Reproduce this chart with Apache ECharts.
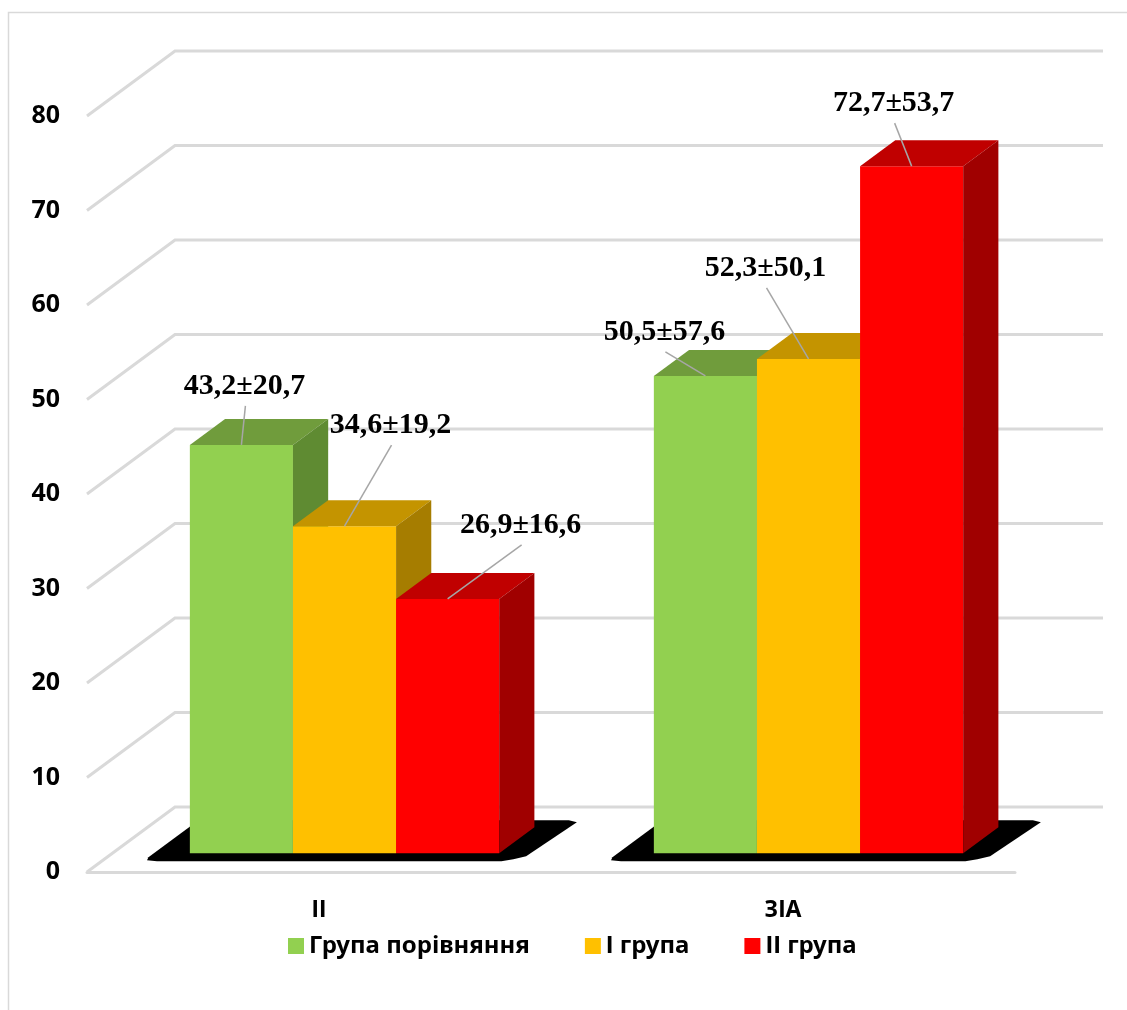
<!DOCTYPE html>
<html>
<head>
<meta charset="utf-8">
<script src="https://cdn.jsdelivr.net/npm/echarts@6/dist/echarts.min.js"></script>
<style>
html, body { margin: 0; padding: 0; background: #fff; }
#chart { width: 1127px; height: 1010px; }
</style>
</head>
<body>
<div id="chart"></div>
<script>
// data
var categories = ["ІІ", "ЗІА"];
var seriesNames = ["Група порівняння", "І група", "ІІ група"];
var meanCompare = [43.2, 50.5];
var meanGroup1 = [34.6, 52.3];
var meanGroup2 = [26.9, 72.7];
var sdCompare = [20.7, 57.6];
var sdGroup1 = [19.2, 50.1];
var sdGroup2 = [16.6, 53.7];
var yTicks = [0, 10, 20, 30, 40, 50, 60, 70, 80];

var means = [meanCompare, meanGroup1, meanGroup2];
var sds = [sdCompare, sdGroup1, sdGroup2];

// look of the fake 3d
var faces = [
  { front: "#92d050", top: "#709c3c", side: "#5f8b32" },
  { front: "#ffc000", top: "#c49400", side: "#a67d00" },
  { front: "#ff0000", top: "#c00000", side: "#a00000" }
];
var DEPTH = [88, -65];   // full floor depth in px
var F0 = 0.29, F1 = 0.69; // where the bars sit inside the depth
var GAP = 1 / 3;
// label offsets from the top-front-centre of each bar, [series][category]
var labelShift = [
  [[3, -59], [-41, -44]],
  [[46, -101], [-43, -91]],
  [[73, -74], [-18, -63]]
];
var sansFont = "Noto Sans";

function fmt(v) {
  return v.toFixed(1).replace(".", ",");
}

function barBox(api, cat, val, k) {
  var base = api.coord([cat, 0]);
  var top = api.coord([cat, val]);
  var band = api.size([1, 0])[0];
  var bw = band * (1 - GAP) / 3;
  return {
    x: base[0] - 1.5 * bw + k * bw + DEPTH[0] * F0,
    w: bw,
    yb: base[1] + DEPTH[1] * F0,
    yt: top[1] + DEPTH[1] * F0,
    dx: DEPTH[0] * (F1 - F0),
    dy: DEPTH[1] * (F1 - F0)
  };
}

function wallItem(params, api) {
  var cs = params.coordSys;
  var y = api.coord([0, api.value(1)])[1];
  return {
    type: "polyline",
    silent: true,
    shape: { points: [[cs.x, y], [cs.x + DEPTH[0], y + DEPTH[1]], [cs.x + cs.width + DEPTH[0], y + DEPTH[1]]] },
    style: { stroke: "#d9d9d9", lineWidth: 3, fill: "none" }
  };
}

function shadowItem(params, api) {
  var a = barBox(api, api.value(0), 0, 0);
  var c = barBox(api, api.value(0), 0, 2);
  var s = -DEPTH[0] / DEPTH[1];
  var F = a.yb, B = a.yb + a.dy;
  var yf = F + 8, yk = B - 7;
  var xl = function (y) { return a.x - 36 + (F - y) * s; };
  var xr = function (y) { return c.x + c.w + 31 + (F - y) * s; };
  return {
    type: "polygon",
    silent: true,
    shape: {
      points: [
        [xl(yf - 4), yf - 4], [xl(yf) + 4, yf - 1], [xl(yf) + 14, yf],
        [xr(yf) - 18, yf], [xr(yf) - 6, yf - 2], [xr(yf - 5), yf - 5],
        [xr(yk) + 2, yk + 2], [xr(yk) - 6, yk],
        [xl(yk), yk]
      ]
    },
    style: { fill: "#000" }
  };
}

function barRenderer(k) {
  return function (params, api) {
    var b = barBox(api, api.value(0), api.value(1), k);
    var f = faces[k];
    return {
      type: "group",
      children: [
        {
          type: "rect",
          shape: { x: b.x, y: b.yt, width: b.w, height: b.yb - b.yt },
          style: { fill: f.front }
        },
        {
          type: "polygon",
          shape: { points: [[b.x, b.yt], [b.x + b.w, b.yt], [b.x + b.w + b.dx, b.yt + b.dy], [b.x + b.dx, b.yt + b.dy]] },
          style: { fill: f.top }
        },
        {
          type: "polygon",
          shape: { points: [[b.x + b.w, b.yt], [b.x + b.w + b.dx, b.yt + b.dy], [b.x + b.w + b.dx, b.yb + b.dy], [b.x + b.w, b.yb]] },
          style: { fill: f.side }
        }
      ]
    };
  };
}

function labelItem(params, api) {
  var cat = api.value(0), val = api.value(1), k = api.value(2);
  var b = barBox(api, cat, val, k);
  var cx = b.x + b.w / 2, cy = b.yt;
  var sh = labelShift[k][cat];
  var lx = cx + sh[0], ly = cy + sh[1];
  return {
    type: "group",
    children: [
      {
        type: "line",
        shape: { x1: lx + 1, y1: ly + 20, x2: cx, y2: cy },
        style: { stroke: "#a6a6a6", lineWidth: 1.5 }
      },
      {
        type: "text",
        x: lx, y: ly,
        style: {
          text: fmt(val) + "±" + fmt(sds[k][cat]),
          fill: "#000",
          fontFamily: "Liberation Serif",
          fontWeight: "bold",
          fontSize: 30,
          align: "center",
          verticalAlign: "middle"
        }
      }
    ]
  };
}

var series = [];
series.push({
  type: "custom",
  name: "walls",
  silent: true,
  z: 1,
  renderItem: wallItem,
  encode: { x: 0, y: 1 },
  data: yTicks.map(function (v) { return [0, v]; })
});
series.push({
  type: "custom",
  name: "shadow",
  silent: true,
  z: 2,
  renderItem: shadowItem,
  encode: { x: 0, y: 1 },
  data: categories.map(function (c, i) { return [i, 0]; })
});
for (var k = 0; k < 3; k++) {
  series.push({
    type: "custom",
    name: seriesNames[k],
    z: 3,
    itemStyle: { color: faces[k].front },
    renderItem: barRenderer(k),
    encode: { x: 0, y: 1 },
    data: categories.map(function (c, i) { return [i, means[k][i]]; })
  });
}
var labelData = [];
for (var k2 = 0; k2 < 3; k2++) {
  for (var i = 0; i < categories.length; i++) {
    labelData.push([i, means[k2][i], k2]);
  }
}
series.push({
  type: "custom",
  name: "labels",
  silent: true,
  z: 5,
  renderItem: labelItem,
  encode: { x: 0, y: 1 },
  data: labelData
});

var chart = echarts.init(document.getElementById("chart"));
var option = {
  animation: false,
  backgroundColor: "#fff",
  grid: { left: 87, right: 112, top: 116, bottom: 138 },
  graphic: [
    {
      type: "rect",
      silent: true,
      z: -1,
      shape: { x: 8.5, y: 12.5, width: 1200, height: 1100 },
      style: { fill: "none", stroke: "#d9d9d9", lineWidth: 1.5 }
    }
  ],
  legend: {
    data: seriesNames,
    left: 283,
    top: 929,
    icon: "rect",
    itemWidth: 16,
    itemHeight: 16,
    itemGap: 55,
    selectedMode: false,
    textStyle: { fontFamily: sansFont, fontWeight: "bold", fontSize: 24, color: "#000" }
  },
  xAxis: {
    type: "category",
    data: categories,
    axisLine: { show: true, lineStyle: { color: "#d9d9d9", width: 3 } },
    axisTick: { show: false },
    splitLine: { show: false },
    axisLabel: { margin: 27, fontFamily: sansFont, fontWeight: "bold", fontSize: 23, color: "#000" }
  },
  yAxis: {
    type: "value",
    min: 0,
    max: 80,
    interval: 10,
    axisLine: { show: false },
    axisTick: { show: false },
    splitLine: { show: false },
    axisLabel: { margin: 27, padding: [7, 0, 0, 0], fontFamily: sansFont, fontWeight: "bold", fontSize: 25, color: "#000" }
  },
  series: series
};
chart.setOption(option);
</script>
</body>
</html>
